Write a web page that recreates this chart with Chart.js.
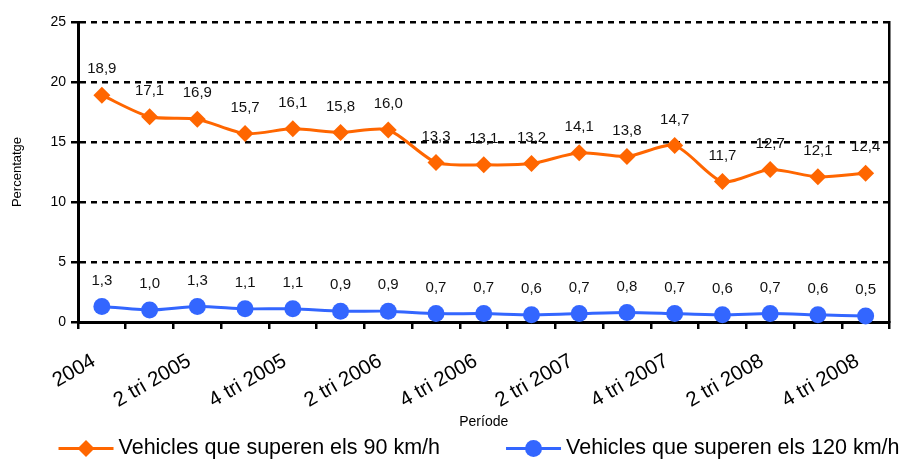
<!DOCTYPE html>
<html>
<head>
<meta charset="utf-8">
<script src="https://cdn.jsdelivr.net/npm/chart.js@4.4.0/dist/chart.umd.min.js"></script>
<style>
  html, body { margin: 0; padding: 0; background: #fff; overflow: hidden; }
  #wrap { width: 902px; height: 459px; position: relative; }
</style>
</head>
<body>
<div id="wrap"><canvas id="myChart"></canvas></div>
<script>
var FONT = "'Liberation Sans', Arial, sans-serif";

// chart values
var periods = ['2004',
  '1 tri 2005', '2 tri 2005', '3 tri 2005', '4 tri 2005',
  '1 tri 2006', '2 tri 2006', '3 tri 2006', '4 tri 2006',
  '1 tri 2007', '2 tri 2007', '3 tri 2007', '4 tri 2007',
  '1 tri 2008', '2 tri 2008', '3 tri 2008', '4 tri 2008'];
var over90 = [18.9, 17.1, 16.9, 15.7, 16.1, 15.8, 16.0, 13.3, 13.1, 13.2, 14.1, 13.8, 14.7, 11.7, 12.7, 12.1, 12.4];
var over120 = [1.3, 1.0, 1.3, 1.1, 1.1, 0.9, 0.9, 0.7, 0.7, 0.6, 0.7, 0.8, 0.7, 0.6, 0.7, 0.6, 0.5];
var seriesNames = ['Vehicles que superen els 90 km/h', 'Vehicles que superen els 120 km/h'];
var yMin = 0, yMax = 25, yStep = 5;

// value labels above each point, decimal comma
var valueLabels = {
  id: 'valueLabels',
  afterDatasetsDraw: function(chart) {
    var ctx = chart.ctx;
    ctx.save();
    ctx.font = '15px ' + FONT;
    ctx.fillStyle = '#111';
    ctx.textAlign = 'center';
    ctx.textBaseline = 'middle';
    chart.data.datasets.forEach(function(ds, i) {
      chart.getDatasetMeta(i).data.forEach(function(pt, j) {
        ctx.fillText(ds.data[j].toFixed(1).replace('.', ','), pt.x, pt.y - 26);
      });
    });
    ctx.restore();
  }
};

// legend with a line + marker sample like the original
var lineLegend = {
  id: 'lineLegend',
  afterDraw: function(chart) {
    var ctx = chart.ctx;
    ctx.save();
    ctx.font = '21.5px ' + FONT;
    ctx.textBaseline = 'middle';
    var sample = 55, gap = 5, between = 66, y = 448.5;
    var widths = chart.data.datasets.map(function(ds) {
      return sample + gap + ctx.measureText(ds.label).width;
    });
    var total = widths[0] + between + widths[1];
    var x = 479 - total / 2;
    chart.data.datasets.forEach(function(ds, i) {
      ctx.strokeStyle = ds.borderColor;
      ctx.lineWidth = 3;
      ctx.beginPath();
      ctx.moveTo(x, y);
      ctx.lineTo(x + sample, y);
      ctx.stroke();
      ctx.fillStyle = ds.pointBackgroundColor;
      Chart.helpers.drawPoint(ctx, {pointStyle: ds.pointStyle, radius: ds.pointRadius, rotation: 0, borderWidth: 0}, x + sample / 2, y);
      ctx.fillStyle = '#000';
      ctx.fillText(ds.label, x + sample + gap, y);
      x += widths[i] + between;
    });
    ctx.restore();
  }
};

new Chart('myChart', {
  type: 'line',
  data: {
    labels: periods,
    datasets: [{
      label: seriesNames[0],
      data: over90,
      borderColor: '#FF6600',
      backgroundColor: '#FF6600',
      pointBackgroundColor: '#FF6600',
      pointBorderWidth: 0,
      pointStyle: 'rectRot',
      pointRadius: 8.5,
      borderWidth: 3,
      tension: 0.25,
      clip: false
    }, {
      label: seriesNames[1],
      data: over120,
      borderColor: '#3366FF',
      backgroundColor: '#3366FF',
      pointBackgroundColor: '#3366FF',
      pointBorderWidth: 0,
      pointStyle: 'circle',
      pointRadius: 8.5,
      borderWidth: 3,
      tension: 0.25,
      clip: false
    }]
  },
  options: {
    responsive: true,
    maintainAspectRatio: false,
    animation: false,
    devicePixelRatio: 1,
    layout: { padding: { top: 22, right: 12.5, left: 0, bottom: 0 } },
    plugins: { legend: { display: false }, tooltip: { enabled: false } },
    scales: {
      x: {
        offset: true,
        grid: { offset: true, drawOnChartArea: false, color: '#000', tickColor: '#000', tickLength: 7, lineWidth: 2.5 },
        border: { color: '#000', width: 3 },
        ticks: {
          autoSkip: false, maxRotation: 30, minRotation: 30, padding: 20, labelOffset: -8,
          color: '#000', font: { family: FONT, size: 20.5 },
          callback: function(v, i) { return i % 2 === 0 ? this.getLabelForValue(v) : ''; }
        },
        title: { display: true, text: 'Període', color: '#000', font: { family: FONT, size: 14 }, padding: { top: 0, bottom: 28 } },
        afterFit: function(s) { s.height = 137; }
      },
      y: {
        min: yMin, max: yMax,
        ticks: { stepSize: yStep, padding: 5, color: '#000', font: { family: FONT, size: 14 } },
        grid: { color: '#000', lineWidth: 2.5, tickLength: 7, tickColor: '#000', tickBorderDash: [] },
        border: { color: '#000', width: 3, dash: [6, 5] },
        title: { display: true, text: 'Percentatge', color: '#000', font: { family: FONT, size: 13 }, padding: { top: 10, bottom: 0 } },
        afterFit: function(s) { s.width = 78; }
      },
      y2: {
        position: 'right', min: yMin, max: yMax,
        ticks: { display: false },
        grid: { drawOnChartArea: false, drawTicks: false },
        border: { color: '#000', width: 2.5 },
        afterFit: function(s) { s.width = 0; }
      }
    }
  },
  plugins: [valueLabels, lineLegend]
});
</script>
</body>
</html>
